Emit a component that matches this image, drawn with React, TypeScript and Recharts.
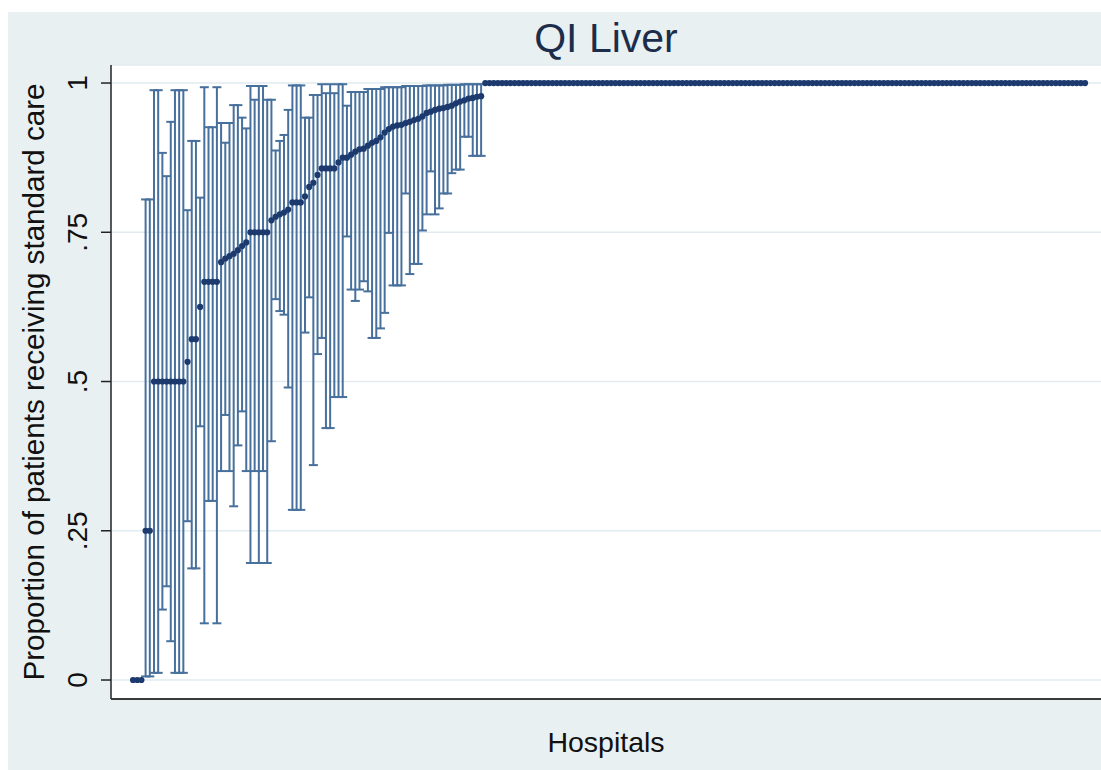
import { ScatterChart, Scatter, XAxis, YAxis, CartesianGrid, ErrorBar } from 'recharts';

// hospitals where no patient got standard care (no interval drawn)
const zeroShare = [0, 0, 0];

// hospitals with a proportion below 1, sorted, with their 95% interval
const ciShare = [
  0.25, 0.25, 0.5, 0.5, 0.5, 0.5, 0.5, 0.5, 0.5, 0.5,
  0.533, 0.571, 0.571, 0.625, 0.667, 0.667, 0.667, 0.667, 0.7, 0.706, 0.71, 0.714, 0.72, 0.727, 0.733,
  0.75, 0.75, 0.75, 0.75, 0.75, 0.77, 0.776, 0.78, 0.783, 0.788, 0.8, 0.8, 0.8,
  0.81, 0.826, 0.833, 0.846, 0.857, 0.857, 0.857, 0.857, 0.867, 0.875, 0.875, 0.88, 0.885, 0.889, 0.89,
  0.895, 0.9, 0.903, 0.909, 0.917, 0.923, 0.927, 0.929, 0.93, 0.933, 0.935, 0.938, 0.94, 0.944,
  0.95, 0.952, 0.955, 0.957, 0.958, 0.96, 0.962, 0.966, 0.969, 0.971, 0.974, 0.975, 0.977, 0.978,
];
const ciLower = [
  0.006, 0.006, 0.012, 0.012, 0.118, 0.157, 0.065, 0.012, 0.012, 0.012,
  0.266, 0.187, 0.187, 0.425, 0.095, 0.3, 0.3, 0.095, 0.35, 0.444, 0.35, 0.291, 0.393, 0.45, 0.35,
  0.196, 0.35, 0.196, 0.35, 0.196, 0.4, 0.638, 0.618, 0.612, 0.49, 0.285, 0.285, 0.285,
  0.582, 0.641, 0.36, 0.546, 0.573, 0.422, 0.422, 0.474, 0.474, 0.474, 0.743, 0.654, 0.635, 0.654, 0.668,
  0.651, 0.573, 0.573, 0.589, 0.615, 0.749, 0.661, 0.661, 0.661, 0.815, 0.68, 0.697, 0.697, 0.753,
  0.78, 0.852, 0.78, 0.79, 0.815, 0.815, 0.849, 0.855, 0.855, 0.91, 0.91, 0.878, 0.878, 0.878,
];
const ciUpper = [
  0.805, 0.805, 0.988, 0.988, 0.883, 0.844, 0.935, 0.988, 0.988, 0.988,
  0.787, 0.903, 0.903, 0.808, 0.993, 0.926, 0.926, 0.993, 0.933, 0.9, 0.933, 0.963, 0.963, 0.942, 0.924,
  0.995, 0.972, 0.995, 0.995, 0.972, 0.972, 0.887, 0.903, 0.913, 0.955, 0.996, 0.996, 0.996,
  0.942, 0.942, 0.98, 0.98, 0.998, 0.983, 0.998, 0.983, 0.998, 0.998, 0.962, 0.985, 0.985, 0.985, 0.985,
  0.99, 0.99, 0.99, 0.99, 0.993, 0.993, 0.993, 0.993, 0.993, 0.995, 0.995, 0.995, 0.995, 0.995,
  0.996, 0.996, 0.996, 0.996, 0.996, 0.997, 0.997, 0.997, 0.997, 0.998, 0.998, 0.998, 0.998, 0.998,
];

// hospitals where every patient got standard care
const fullShare = [
  1, 1, 1, 1, 1, 1, 1, 1, 1, 1, 1, 1, 1, 1, 1, 1, 1, 1, 1, 1, 1, 1, 1, 1,
  1, 1, 1, 1, 1, 1, 1, 1, 1, 1, 1, 1, 1, 1, 1, 1, 1, 1, 1, 1, 1, 1, 1, 1,
  1, 1, 1, 1, 1, 1, 1, 1, 1, 1, 1, 1, 1, 1, 1, 1, 1, 1, 1, 1, 1, 1, 1, 1,
  1, 1, 1, 1, 1, 1, 1, 1, 1, 1, 1, 1, 1, 1, 1, 1, 1, 1, 1, 1, 1, 1, 1, 1,
  1, 1, 1, 1, 1, 1, 1, 1, 1, 1, 1, 1, 1, 1, 1, 1, 1, 1, 1, 1, 1, 1, 1, 1,
  1, 1, 1, 1, 1, 1, 1, 1, 1, 1, 1, 1, 1, 1, 1, 1, 1, 1, 1, 1, 1, 1, 1, 1,
];

const yTicks = [0, 0.25, 0.5, 0.75, 1];
const yTickLabels = ['0', '.25', '.5', '.75', '1'];

const FONT = '"Liberation Sans", Arial, sans-serif';
const DOT = '#1c3a6e';
const BAR = '#47709c';

const zeroRows = zeroShare.map((p, i) => ({ hospital: i + 1, p }));
const ciRows = ciShare.map((p, i) => ({
  hospital: zeroShare.length + i + 1,
  p,
  err: [p - ciLower[i], ciUpper[i] - p],
}));
const fullRows = fullShare.map((p, i) => ({
  hospital: zeroShare.length + ciShare.length + i + 1,
  p,
}));
const allRows = [...zeroRows, ...ciRows, ...fullRows];

function YTick(props: any) {
  const { x, y, payload } = props;
  const idx = yTicks.indexOf(payload.value);
  return (
    <text
      x={x} y={y}
      transform={`rotate(-90, ${x}, ${y})`}
      textAnchor="middle"
      fontSize={28} fontFamily={FONT} fill="#111"
    >
      {idx >= 0 ? yTickLabels[idx] : payload.value}
    </text>
  );
}

function YTitle() {
  const x = 36, y = 370;
  return (
    <text
      x={x} y={y}
      transform={`rotate(-90, ${x}, ${y})`}
      textAnchor="middle"
      fontSize={29.6} fontFamily={FONT} fill="#111"
    >
      Proportion of patients receiving standard care
    </text>
  );
}

function XTitle() {
  return (
    <text x={598} y={740} textAnchor="middle" fontSize={28.5} fontFamily={FONT} fill="#111">
      Hospitals
    </text>
  );
}

const Dot = (props: any) => <circle cx={props.cx} cy={props.cy} r={3.1} fill={DOT} />;
const NoDot = () => <g />;

export default function App() {
  return (
    <div style={{ position: 'absolute', left: 8, top: 12, width: 1093, height: 758, background: '#e9f0f2' }}>
      <div style={{
        position: 'absolute', top: 6, left: 0, width: 1196, textAlign: 'center',
        fontFamily: FONT, fontSize: 41, lineHeight: '41px', color: '#1b2d4a',
      }}>
        QI Liver
      </div>
      <ScatterChart width={1093} height={758} margin={{ top: 53, right: 0, bottom: 0, left: 0 }}>
        <CartesianGrid vertical={false} stroke="#e2ebef" strokeWidth={1.5} fill="#ffffff" />
        <XAxis
          type="number" dataKey="hospital"
          domain={[-4.25, 231.8]} allowDataOverflow
          height={71} tick={false} tickLine={false}
          axisLine={{ stroke: '#3a3a3a', strokeWidth: 2.2 }}
          label={<XTitle />}
        />
        <YAxis
          type="number" dataKey="p"
          domain={[-0.0318, 1.0302]} allowDataOverflow
          ticks={yTicks} interval={0}
          width={103} tickSize={10} tickMargin={14}
          tick={<YTick />}
          tickLine={{ stroke: '#222', strokeWidth: 1.5 }}
          axisLine={{ stroke: '#222', strokeWidth: 1.5 }}
          label={<YTitle />}
        />
        <Scatter data={ciRows} dataKey="p" shape={NoDot} isAnimationActive={false}>
          <ErrorBar dataKey="err" direction="y" width={4.5} stroke={BAR} strokeWidth={2} />
        </Scatter>
        <Scatter data={allRows} dataKey="p" shape={Dot} isAnimationActive={false} />
      </ScatterChart>
    </div>
  );
}
